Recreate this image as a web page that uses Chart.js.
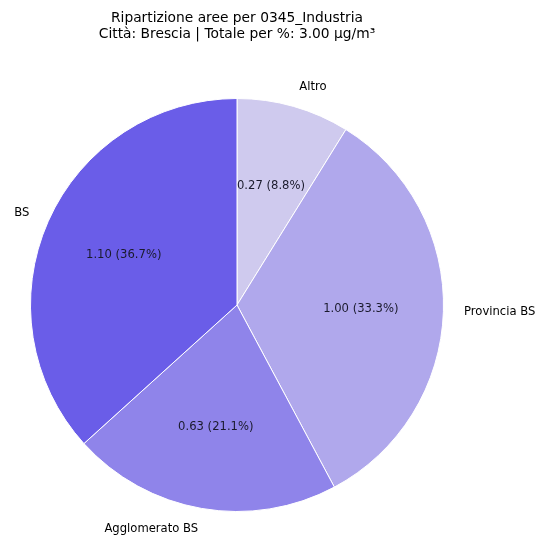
<!DOCTYPE html>
<html>
<head>
<meta charset="utf-8">
<script src="https://cdn.jsdelivr.net/npm/chart.js@4.4.1/dist/chart.umd.min.js"></script>
<style>
  html, body { margin: 0; padding: 0; background: #ffffff; }
  #wrap { width: 545px; height: 539px; position: relative; }
</style>
</head>
<body>
<div id="wrap"><canvas id="c" width="545" height="539"></canvas></div>
<script>
// Emission shares by area, clockwise from 12 o'clock
const categories = ['Altro', 'Provincia BS', 'Agglomerato BS', 'BS'];
const values = [0.2652, 1.000, 0.633, 1.101];
const colors = ['#cfcaee', '#b0a8ec', '#8f84ea', '#6a5de8'];
const titleLines = ['Ripartizione aree per 0345_Industria', 'Città: Brescia | Totale per %: 3.00 µg/m³'];

const FONT = '"DejaVu Sans", "Liberation Sans", sans-serif';
const total = values.reduce((a, b) => a + b, 0);

const pieLabels = {
  id: 'pieLabels',
  afterDatasetsDraw(chart) {
    const ctx = chart.ctx;
    const meta = chart.getDatasetMeta(0);
    ctx.save();
    meta.data.forEach((arc, i) => {
      const mid = (arc.startAngle + arc.endAngle) / 2;
      const R = arc.outerRadius;
      const v = values[i];
      // value + percentage inside the slice
      ctx.font = '11.6px ' + FONT;
      ctx.fillStyle = '#1a1a2c';
      ctx.textAlign = 'center';
      ctx.textBaseline = 'middle';
      const px = arc.x + Math.cos(mid) * R * 0.6;
      const py = arc.y + Math.sin(mid) * R * 0.6;
      ctx.fillText(v.toFixed(2) + ' (' + (v / total * 100).toFixed(1) + '%)', px, py);
      // category name outside the slice
      const lx = arc.x + Math.cos(mid) * R * 1.1;
      const ly = arc.y + Math.sin(mid) * R * 1.1;
      ctx.fillStyle = '#000000';
      ctx.textAlign = Math.cos(mid) > 0 ? 'left' : 'right';
      ctx.fillText(categories[i], lx, ly);
    });
    // two-line heading
    ctx.font = '13.8px ' + FONT;
    ctx.fillStyle = '#000000';
    ctx.textAlign = 'center';
    ctx.textBaseline = 'middle';
    ctx.fillText(titleLines[0], 237, 18);
    ctx.fillText(titleLines[1], 237, 34.5);
    ctx.restore();
  }
};

new Chart(document.getElementById('c'), {
  type: 'pie',
  data: {
    labels: categories,
    datasets: [{
      data: values,
      backgroundColor: colors,
      borderColor: '#ffffff',
      borderWidth: 1
    }]
  },
  options: {
    responsive: false,
    animation: false,
    layout: { padding: { left: 30, right: 101, top: 98, bottom: 27 } },
    plugins: {
      legend: { display: false },
      title: { display: false },
      tooltip: { enabled: false }
    }
  },
  plugins: [pieLabels]
});
</script>
</body>
</html>
